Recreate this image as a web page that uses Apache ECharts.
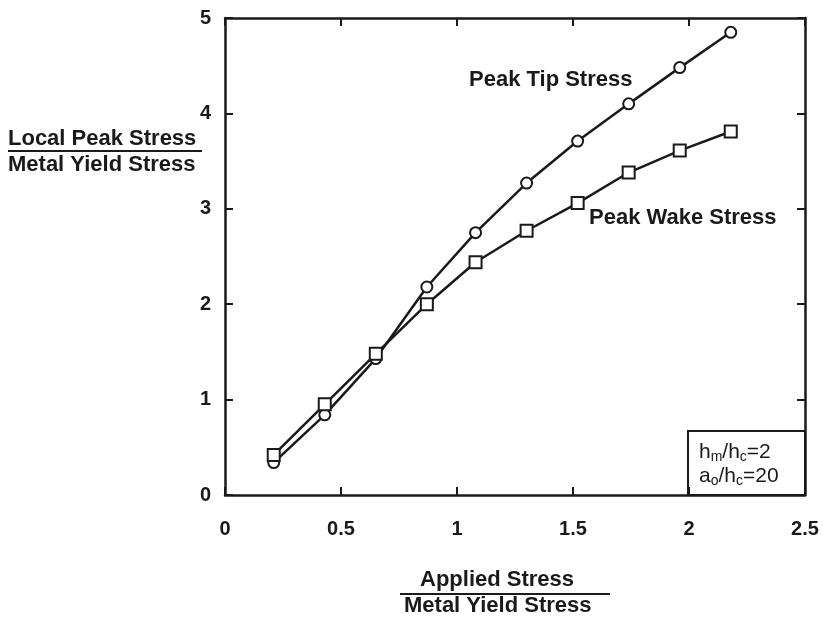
<!DOCTYPE html>
<html><head><meta charset="utf-8">
<script src="https://cdn.jsdelivr.net/npm/echarts@6/dist/echarts.min.js"></script>
<style>html,body{margin:0;padding:0;background:#fff}#c{width:823px;height:621px}</style>
</head><body><div id="c"></div>
<script>
const xValues = [0.21, 0.43, 0.65, 0.87, 1.08, 1.30, 1.52, 1.74, 1.96, 2.18];
const tipStress = [0.34, 0.84, 1.43, 2.18, 2.75, 3.27, 3.71, 4.10, 4.48, 4.85];
const wakeStress = [0.42, 0.95, 1.48, 2.00, 2.44, 2.77, 3.06, 3.38, 3.61, 3.81];
const xTicks = ['0', '0.5', '1', '1.5', '2', '2.5'];
const yTicks = ['0', '1', '2', '3', '4', '5'];

const chart = echarts.init(document.getElementById('c'), null, {renderer: 'canvas'});
const FONT = 'Liberation Sans';
const TXT = 'bold 22px ' + FONT;
const INK = '#1a1a1a';
function axisCommon() {
  return {
    axisLine: {show: true, onZero: false, lineStyle: {color: INK, width: 2.5}},
    axisTick: {show: true, inside: true, length: 8, lineStyle: {color: INK, width: 2}},
    splitLine: {show: false}
  };
}
chart.setOption({
  animation: false,
  backgroundColor: '#fff',
  grid: {left: 225, right: 18, top: 18, bottom: 126},
  xAxis: [
    Object.assign({type: 'value', min: 0, max: 2.5, interval: 0.5, position: 'bottom',
      axisLabel: {color: INK, fontFamily: FONT, fontWeight: 'bold', fontSize: 20, margin: 24,
        formatter: v => xTicks[Math.round(v / 0.5)]}}, axisCommon()),
    Object.assign({type: 'value', min: 0, max: 2.5, interval: 0.5, position: 'top',
      axisLabel: {show: false}}, axisCommon())
  ],
  yAxis: [
    Object.assign({type: 'value', min: 0, max: 5, interval: 1, position: 'left',
      axisLabel: {color: INK, fontFamily: FONT, fontWeight: 'bold', fontSize: 20, margin: 14,
        formatter: v => yTicks[Math.round(v)]}}, axisCommon()),
    Object.assign({type: 'value', min: 0, max: 5, interval: 1, position: 'right',
      axisLabel: {show: false}}, axisCommon())
  ],
  series: [
    {type: 'line', name: 'Peak Tip Stress', data: xValues.map((x, i) => [x, tipStress[i]]),
      symbol: 'circle', symbolSize: 11,
      lineStyle: {color: INK, width: 2.5},
      itemStyle: {color: '#fff', borderColor: INK, borderWidth: 2}},
    {type: 'line', name: 'Peak Wake Stress', data: xValues.map((x, i) => [x, wakeStress[i]]),
      symbol: 'rect', symbolSize: 12,
      lineStyle: {color: INK, width: 2.5},
      itemStyle: {color: '#fff', borderColor: INK, borderWidth: 2}}
  ],
  graphic: [
    {type: 'text', left: 469, top: 69, style: {text: 'Peak Tip Stress', font: TXT, fill: INK}},
    {type: 'text', left: 589, top: 207, style: {text: 'Peak Wake Stress', font: TXT, fill: INK}},
    {type: 'text', left: 8, top: 128, style: {text: 'Local Peak Stress', font: TXT, fill: INK}},
    {type: 'line', shape: {x1: 8, y1: 151, x2: 202, y2: 151}, style: {stroke: INK, lineWidth: 2}},
    {type: 'text', left: 8, top: 154, style: {text: 'Metal Yield Stress', font: TXT, fill: INK}},
    {type: 'text', left: 420, top: 569, style: {text: 'Applied Stress', font: TXT, fill: INK}},
    {type: 'line', shape: {x1: 400, y1: 594, x2: 610, y2: 594}, style: {stroke: INK, lineWidth: 2}},
    {type: 'text', left: 404, top: 595, style: {text: 'Metal Yield Stress', font: TXT, fill: INK}},
    {type: 'rect', shape: {x: 688, y: 431, width: 117, height: 64}, style: {fill: '#fff', stroke: INK, lineWidth: 2}},
    {type: 'text', left: 699, top: 440, style: {
      text: 'h{s|m}/h{s|c}=2\na{s|o}/h{s|c}=20', font: '21px ' + FONT, fill: INK, lineHeight: 24,
      rich: {s: {fontSize: 14, fontFamily: FONT, fill: INK, padding: [11, 0, 0, 0]}}}}
  ]
});
</script></body></html>
